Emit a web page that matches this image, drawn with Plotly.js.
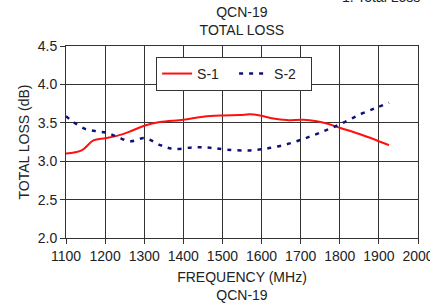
<!DOCTYPE html>
<html><head><meta charset="utf-8">
<script src="https://cdn.plot.ly/plotly-3.0.1.min.js"></script>
<style>html,body{margin:0;padding:0;background:#fff;}#chart{width:430px;height:303px;}</style>
</head><body><div id="chart"></div>
<script>
const s1Freq = [1100,1140,1170,1200,1230,1265,1302,1340,1400,1451,1500,1545,1570,1596,1630,1664,1707,1741,1767,1800,1852,1895,1926];
const s1Loss = [3.10,3.14,3.27,3.30,3.33,3.39,3.465,3.51,3.54,3.58,3.595,3.60,3.61,3.595,3.555,3.535,3.54,3.52,3.49,3.435,3.35,3.27,3.21];
const s2Freq = [1100,1119,1149,1178,1204,1230,1264,1302,1341,1375,1426,1468,1511,1570,1613,1664,1707,1749,1800,1852,1895,1926];
const s2Loss = [3.587,3.51,3.42,3.39,3.37,3.32,3.26,3.30,3.21,3.16,3.18,3.175,3.15,3.14,3.165,3.22,3.29,3.37,3.48,3.61,3.70,3.76];
const xTicks = [1100,1200,1300,1400,1500,1600,1700,1800,1900,2000];
const yTicks = [2.0,2.5,3.0,3.5,4.0,4.5];

const font = {family:'Liberation Sans, Arial, sans-serif', size:14, color:'#222'};
const traces = [
  {x:s1Freq, y:s1Loss, name:'S-1', mode:'lines', line:{color:'#ff1010', width:2, shape:'spline'}},
  {x:s2Freq, y:s2Loss, name:'S-2', mode:'lines', line:{color:'#10107a', width:2.5, dash:'4px,6px', shape:'spline'}}
];
const layout = {
  width:430, height:303,
  margin:{l:66, r:12, t:46, b:65},
  paper_bgcolor:'#fff', plot_bgcolor:'#fff',
  font:font,
  showlegend:true,
  title:{text:'QCN-19<br>TOTAL LOSS', x:0.5625, xanchor:'center', y:0.945, yanchor:'top', font:font},
  xaxis:{range:[1100,2000], tickvals:xTicks, ticktext:xTicks.map(String), ticks:'outside', ticklen:5, tickcolor:'#333',
    ticklabeloverflow:'allow',
    showgrid:true, gridcolor:'#333', gridwidth:1, showline:true, linecolor:'#333', mirror:true, zeroline:false,
    title:{text:'FREQUENCY (MHz)<br>QCN-19', standoff:16, font:font}, tickfont:font},
  yaxis:{range:[2.0,4.5], tickvals:yTicks, ticktext:yTicks.map(v=>v.toFixed(1)), ticks:'outside', ticklen:5, tickcolor:'#333',
    showgrid:true, gridcolor:'#333', gridwidth:1, showline:true, linecolor:'#333', mirror:true, zeroline:false,
    title:{text:'TOTAL LOSS (dB)', standoff:4, font:font}, tickfont:font},
  legend:{orientation:'h', x:0.256, xanchor:'left', y:0.943, yanchor:'top', bgcolor:'#fff', bordercolor:'#333', borderwidth:1,
    font:font, entrywidth:32},
  annotations:[{text:'1. Total Loss', xref:'paper', yref:'paper', x:1.01, xanchor:'right', y:1.204, yanchor:'bottom', showarrow:false,
    font:font}]
};
Plotly.newPlot('chart', traces, layout, {displayModeBar:false, staticPlot:true});
</script></body></html>
